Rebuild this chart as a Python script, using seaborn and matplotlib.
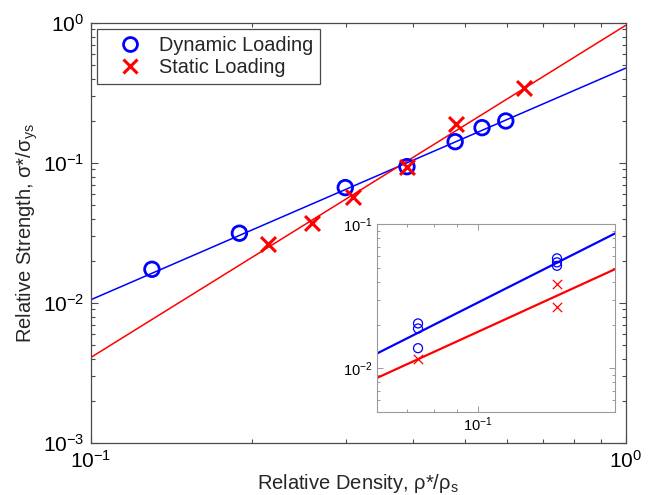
import matplotlib
matplotlib.use("Agg")
import matplotlib.pyplot as plt
import seaborn as sns
from matplotlib.ticker import NullFormatter
from matplotlib.lines import Line2D

# ---------------- data ----------------
dyn_density = [0.130, 0.1895, 0.299, 0.390, 0.480, 0.539, 0.597]
dyn_strength = [0.0174, 0.0315, 0.0667, 0.0941, 0.1419, 0.1787, 0.1995]
static_density = [0.2147, 0.2594, 0.3087, 0.3896, 0.4818, 0.6456]
static_strength = [0.0264, 0.0371, 0.0574, 0.0930, 0.189, 0.345]

fit_density = [0.1, 1.0]
dyn_fit = [0.01056, 0.475]
static_fit = [0.00409, 0.96]

inset_dyn_density = [0.0739, 0.0739, 0.0739, 0.149, 0.149, 0.149]
inset_dyn_strength = [0.0205, 0.0189, 0.0138, 0.0580, 0.0544, 0.0515]
inset_static_density = [0.0739, 0.149, 0.149]
inset_static_strength = [0.01156, 0.0382, 0.0267]
inset_fit_density = [0.06, 0.2]
inset_dyn_fit = [0.01265, 0.0866]
inset_static_fit = [0.00856, 0.0489]

legend_labels = ["Dynamic Loading", "Static Loading"]

# ---------------- style ----------------
sns.set_style("ticks")
plt.rcParams["font.family"] = ["Liberation Sans", "DejaVu Sans"]
plt.rcParams["mathtext.fontset"] = "custom"
plt.rcParams["mathtext.rm"] = "Liberation Sans"
plt.rcParams["mathtext.it"] = "Liberation Sans:italic"
plt.rcParams["mathtext.bf"] = "Liberation Sans:bold"

BLUE = "#0000ff"
RED = "#ff0000"
FRAME = "#4a4a4a"

fig = plt.figure(figsize=(6.53, 4.95), dpi=100)
ax = fig.add_axes([0.1394, 0.1051, 0.8185, 0.8485])

sns.lineplot(x=fit_density, y=dyn_fit, color=BLUE, lw=1.1, ax=ax,
             sort=False, estimator=None, zorder=2)
sns.lineplot(x=fit_density, y=static_fit, color=RED, lw=1.1, ax=ax,
             sort=False, estimator=None, zorder=2)
sns.scatterplot(x=dyn_density, y=dyn_strength, marker="o", s=110,
                facecolor="none", edgecolor=BLUE, linewidth=2.0, ax=ax, zorder=3)
sns.scatterplot(x=static_density, y=static_strength, marker="x", s=115,
                color=RED, linewidth=2.2, ax=ax, zorder=4)

ax.set_xscale("log")
ax.set_yscale("log")
ax.set_xlim(0.1, 1.0)
ax.set_ylim(1e-3, 1.0)
ax.xaxis.set_minor_formatter(NullFormatter())
ax.yaxis.set_minor_formatter(NullFormatter())
ax.tick_params(which="both", direction="in", top=True, right=True,
               color=FRAME, labelcolor="black", width=0.8)
ax.tick_params(which="major", length=5, labelsize=15, pad=5)
ax.tick_params(which="minor", length=2.8)
for sp in ax.spines.values():
    sp.set_color(FRAME)
    sp.set_linewidth(0.9)

ax.set_xlabel("Relative Density, ρ*/ρ$_{\\mathdefault{s}}$", fontsize=14.5, labelpad=0)
ax.set_ylabel("Relative Strength, σ*/σ$_{\\mathdefault{ys}}$", fontsize=14.5, labelpad=2)

handles = [
    Line2D([], [], marker="o", ls="none", markersize=10, markerfacecolor="none",
           markeredgecolor=BLUE, markeredgewidth=2.0),
    Line2D([], [], marker="x", ls="none", markersize=10.5, color=RED,
           markeredgewidth=2.2),
]
leg = ax.legend(handles, legend_labels, loc="upper left",
                bbox_to_anchor=(0.0118, 0.985), borderaxespad=0,
                fontsize=14.3, frameon=True, fancybox=False, framealpha=1,
                edgecolor=FRAME, borderpad=0.35, handlelength=2.6,
                handletextpad=0.15, labelspacing=0.15)
leg.get_frame().set_linewidth(0.9)

# ---------------- inset ----------------
axi = fig.add_axes([0.5769, 0.1683, 0.3654, 0.3786])
sns.lineplot(x=inset_fit_density, y=inset_dyn_fit, color=BLUE, lw=1.6, ax=axi,
             sort=False, estimator=None, zorder=2)
sns.lineplot(x=inset_fit_density, y=inset_static_fit, color=RED, lw=1.6, ax=axi,
             sort=False, estimator=None, zorder=2)
sns.scatterplot(x=inset_dyn_density, y=inset_dyn_strength, marker="o", s=42,
                facecolor="none", edgecolor=BLUE, linewidth=0.9, ax=axi, zorder=3)
sns.scatterplot(x=inset_static_density, y=inset_static_strength, marker="x", s=45,
                color=RED, linewidth=0.9, ax=axi, zorder=3)
axi.set_xscale("log")
axi.set_yscale("log")
axi.set_xlim(0.06, 0.2)
axi.set_ylim(0.005, 0.1)
axi.xaxis.set_minor_formatter(NullFormatter())
axi.yaxis.set_minor_formatter(NullFormatter())
axi.tick_params(which="both", direction="in", top=True, right=True,
                color="#9a9a9a", labelcolor="black", width=0.7)
axi.tick_params(which="major", length=4, labelsize=10.5, pad=3)
axi.tick_params(which="minor", length=2.2)
for sp in axi.spines.values():
    sp.set_color("#9a9a9a")
    sp.set_linewidth(0.8)
axi.set_xlabel("")
axi.set_ylabel("")

fig.savefig("out.png", dpi=100)
